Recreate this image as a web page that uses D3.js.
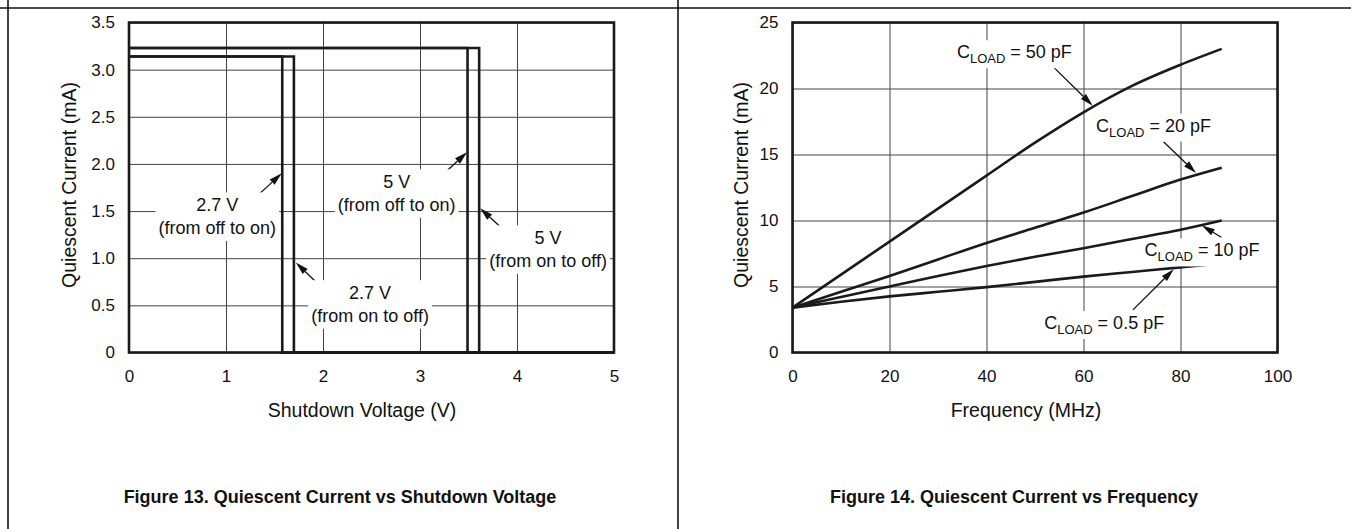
<!DOCTYPE html>
<html>
<head>
<meta charset="utf-8">
<script src="https://cdn.jsdelivr.net/npm/d3@7"></script>
<style>
  body { margin: 0; background: #fff; }
  svg { display: block; font-family: "Liberation Sans", Arial, Helvetica, sans-serif; }
  text { white-space: pre; fill: #111; }
</style>
</head>
<body>
<svg id="page" width="1351" height="529"></svg>
<script>
// ---- figure 13 : quiescent current vs shutdown voltage ----
const voltTicks = [0, 1, 2, 3, 4, 5];
const currTicksLeft = [0, 0.5, 1.0, 1.5, 2.0, 2.5, 3.0, 3.5];
const traceNames = ["2.7 V off to on", "2.7 V on to off", "5 V off to on", "5 V on to off"];
const traceLevel = [3.14, 3.14, 3.23, 3.23];   // mA while on
const traceEdge = [1.58, 1.70, 3.49, 3.61];    // V where it switches

// ---- figure 14 : quiescent current vs frequency ----
const freqTicks = [0, 20, 40, 60, 80, 100];
const currTicksRight = [0, 5, 10, 15, 20, 25];
const freqMHz = [0, 10, 20, 30, 40, 50, 60, 70, 80, 88.5];
const iq50pF = [3.4, 5.9, 8.4, 10.9, 13.4, 15.9, 18.2, 20.2, 21.8, 23.0];
const iq20pF = [3.4, 4.6, 5.8, 7.05, 8.3, 9.45, 10.6, 11.85, 13.1, 14.0];
const iq10pF = [3.4, 4.2, 5.0, 5.8, 6.55, 7.25, 7.9, 8.6, 9.3, 10.0];
const iq05pF = [3.4, 3.85, 4.25, 4.6, 4.95, 5.35, 5.75, 6.1, 6.45, 6.75];

const svg = d3.select("#page");

const xVolt = d3.scaleLinear().domain([0, 5]).range([129, 614]);
const yLeft = d3.scaleLinear().domain([0, 3.5]).range([352.5, 22.5]);
const xFreq = d3.scaleLinear().domain([0, 100]).range([792.5, 1277.5]);
const yRight = d3.scaleLinear().domain([0, 25]).range([352.5, 22.5]);

// page rules (cut from a datasheet page)
svg.append("line").attr("x1", 0).attr("x2", 1351).attr("y1", 8).attr("y2", 8)
  .attr("stroke", "#111").attr("stroke-width", 1.6);
[8, 678].forEach((x) => {
  svg.append("line").attr("x1", x).attr("x2", x).attr("y1", 0).attr("y2", 529)
    .attr("stroke", "#111").attr("stroke-width", 1.6);
});

function draw_grid(g, x, y, xt, yt) {
  const [x0, x1] = x.range();
  const [y0, y1] = y.range();
  g.append("g")
    .attr("transform", `translate(0,${y0})`)
    .call(d3.axisBottom(x).tickValues(xt).tickSize(-(y0 - y1)).tickFormat(""))
    .call((s) => s.select(".domain").remove())
    .selectAll("line").attr("stroke", "#444").attr("stroke-width", 1);
  g.append("g")
    .attr("transform", `translate(${x0},0)`)
    .call(d3.axisLeft(y).tickValues(yt).tickSize(-(x1 - x0)).tickFormat(""))
    .call((s) => s.select(".domain").remove())
    .selectAll("line").attr("stroke", "#444").attr("stroke-width", 1);
}

function draw_ticks(g, x, y, xt, yt, xfmt, yfmt) {
  const [x0] = x.range();
  const [y0] = y.range();
  g.append("g")
    .attr("transform", `translate(0,${y0})`)
    .call(d3.axisBottom(x).tickValues(xt).tickSize(0).tickPadding(17).tickFormat(xfmt))
    .call((s) => s.select(".domain").remove())
    .selectAll("text").style("font-size", "17px").attr("fill", "#111")
    .style("font-family", '"Liberation Sans", Arial, sans-serif');
  g.append("g")
    .attr("transform", `translate(${x0},0)`)
    .call(d3.axisLeft(y).tickValues(yt).tickSize(0).tickPadding(14).tickFormat(yfmt))
    .call((s) => s.select(".domain").remove())
    .selectAll("text").style("font-size", "17px").attr("fill", "#111")
    .style("font-family", '"Liberation Sans", Arial, sans-serif');
}

function draw_frame(g, x, y) {
  const [x0, x1] = x.range();
  const [y0, y1] = y.range();
  g.append("rect").attr("x", x0).attr("y", y1).attr("width", x1 - x0).attr("height", y0 - y1)
    .attr("fill", "none").attr("stroke", "#1a1a1a").attr("stroke-width", 2.6);
}

function draw_arrow(g, from, to) {
  const dx = to[0] - from[0], dy = to[1] - from[1];
  const len = Math.hypot(dx, dy);
  const ux = dx / len, uy = dy / len;
  const head = 13, half = 3.6;
  const bx = to[0] - ux * head, by = to[1] - uy * head;
  g.append("line").attr("x1", from[0]).attr("y1", from[1]).attr("x2", bx).attr("y2", by)
    .attr("stroke", "#111").attr("stroke-width", 1.3);
  g.append("path")
    .attr("d", `M${to[0]},${to[1]}L${bx - uy * half},${by + ux * half}L${bx + uy * half},${by - ux * half}Z`)
    .attr("fill", "#111");
}

// white patch behind a label so the grid stops around it
function back_box(g, pad) {
  const b = g.node().getBBox();
  g.insert("rect", ":first-child")
    .attr("x", b.x - pad).attr("y", b.y - pad)
    .attr("width", b.width + pad * 2).attr("height", b.height + pad * 2)
    .attr("fill", "#fff");
}

// ================= left chart =================
const left = svg.append("g");
draw_grid(left, xVolt, yLeft, voltTicks, currTicksLeft);

const leftNotes = [
  { lines: ["2.7 V", "(from off to on)"], at: [0.91, 1.565], from: [1.14, 1.49], to: [1.575, 1.90] },
  { lines: ["2.7 V", "(from on to off)"], at: [2.485, 0.634], from: [2.155, 0.52], to: [1.72, 0.955] },
  { lines: ["5 V", "(from off to on)"], at: [2.76, 1.81], from: [3.03, 1.69], to: [3.485, 2.125] },
  { lines: ["5 V", "(from on to off)"], at: [4.32, 1.216], from: [4.06, 1.11], to: [3.62, 1.53] },
];
const leftTexts = left.append("g");
leftNotes.forEach((n) => {
  const g = leftTexts.append("g");
  n.lines.forEach((s, i) => {
    g.append("text")
      .attr("x", xVolt(n.at[0]))
      .attr("y", yLeft(n.at[1]) + i * 22.5)
      .attr("dy", "0.36em")
      .attr("text-anchor", "middle")
      .style("font-size", "18px")
      .text(s);
  });
  back_box(g, 3);
});

const stepLine = d3.line().x((d) => xVolt(d[0])).y((d) => yLeft(d[1]));
left.selectAll("path.trace")
  .data(traceNames.map((name, i) => [[0, traceLevel[i]], [traceEdge[i], traceLevel[i]], [traceEdge[i], 0], [5, 0]]))
  .join("path")
  .attr("class", "trace")
  .attr("d", stepLine)
  .attr("fill", "none")
  .attr("stroke", "#1a1a1a")
  .attr("stroke-width", 2.6);

leftNotes.forEach((n) => {
  draw_arrow(left, [xVolt(n.from[0]), yLeft(n.from[1])], [xVolt(n.to[0]), yLeft(n.to[1])]);
});
left.node().appendChild(leftTexts.node());

draw_ticks(left, xVolt, yLeft, voltTicks, currTicksLeft, d3.format("d"),
  (d) => (d === 0 ? "0" : d3.format(".1f")(d)));
draw_frame(left, xVolt, yLeft);

left.append("text").attr("x", 362).attr("y", 417).attr("text-anchor", "middle")
  .style("font-size", "19.5px").text("Shutdown Voltage (V)");
left.append("text").attr("transform", "translate(75.5,185) rotate(-90)").attr("text-anchor", "middle")
  .style("font-size", "19.5px").text("Quiescent Current (mA)");
left.append("text").attr("x", 340).attr("y", 503).attr("text-anchor", "middle")
  .style("font-size", "18px").style("font-weight", "bold")
  .text("Figure 13. Quiescent Current vs Shutdown Voltage");

// ================= right chart =================
const right = svg.append("g");
draw_grid(right, xFreq, yRight, freqTicks, currTicksRight);

const rightNotes = [
  { sub: "LOAD", tail: " = 50 pF", at: [33.9, 22.78], from: [53.4, 21.77], to: [61.9, 18.7] },
  { sub: "LOAD", tail: " = 20 pF", at: [62.6, 17.23], from: [76.5, 15.97], to: [83.2, 13.6] },
  { sub: "LOAD", tail: " = 10 pF", at: [72.6, 7.77], from: [88.4, 8.73], to: [84.4, 9.62] },
  { sub: "LOAD", tail: " = 0.5 pF", at: [51.9, 2.27], from: [70.2, 3.23], to: [78.6, 6.3] },
];
const rightTexts = right.append("g");
rightNotes.forEach((n) => {
  const g = rightTexts.append("g");
  const t = g.append("text")
    .attr("x", xFreq(n.at[0]))
    .attr("y", yRight(n.at[1]))
    .attr("dy", "0.36em")
    .style("font-size", "18px");
  t.append("tspan").text("C");
  t.append("tspan").attr("dy", 5).style("font-size", "13px").text(n.sub);
  t.append("tspan").attr("dy", -5).text(n.tail);
  back_box(g, 2);
});

const series = [iq50pF, iq20pF, iq10pF, iq05pF];
const curve = d3.line()
  .x((d, i) => xFreq(freqMHz[i]))
  .y((d) => yRight(d))
  .curve(d3.curveMonotoneX);
right.selectAll("path.series")
  .data(series)
  .join("path")
  .attr("class", "series")
  .attr("d", curve)
  .attr("fill", "none")
  .attr("stroke", "#1a1a1a")
  .attr("stroke-width", 2.6);

rightNotes.forEach((n) => {
  draw_arrow(right, [xFreq(n.from[0]), yRight(n.from[1])], [xFreq(n.to[0]), yRight(n.to[1])]);
});
right.node().appendChild(rightTexts.node());

draw_ticks(right, xFreq, yRight, freqTicks, currTicksRight, d3.format("d"), d3.format("d"));
draw_frame(right, xFreq, yRight);

right.append("text").attr("x", 1026).attr("y", 417).attr("text-anchor", "middle")
  .style("font-size", "19.5px").text("Frequency (MHz)");
right.append("text").attr("transform", "translate(748,185) rotate(-90)").attr("text-anchor", "middle")
  .style("font-size", "19.5px").text("Quiescent Current (mA)");
right.append("text").attr("x", 1014).attr("y", 503).attr("text-anchor", "middle")
  .style("font-size", "18px").style("font-weight", "bold")
  .text("Figure 14. Quiescent Current vs Frequency");
</script>
</body>
</html>
